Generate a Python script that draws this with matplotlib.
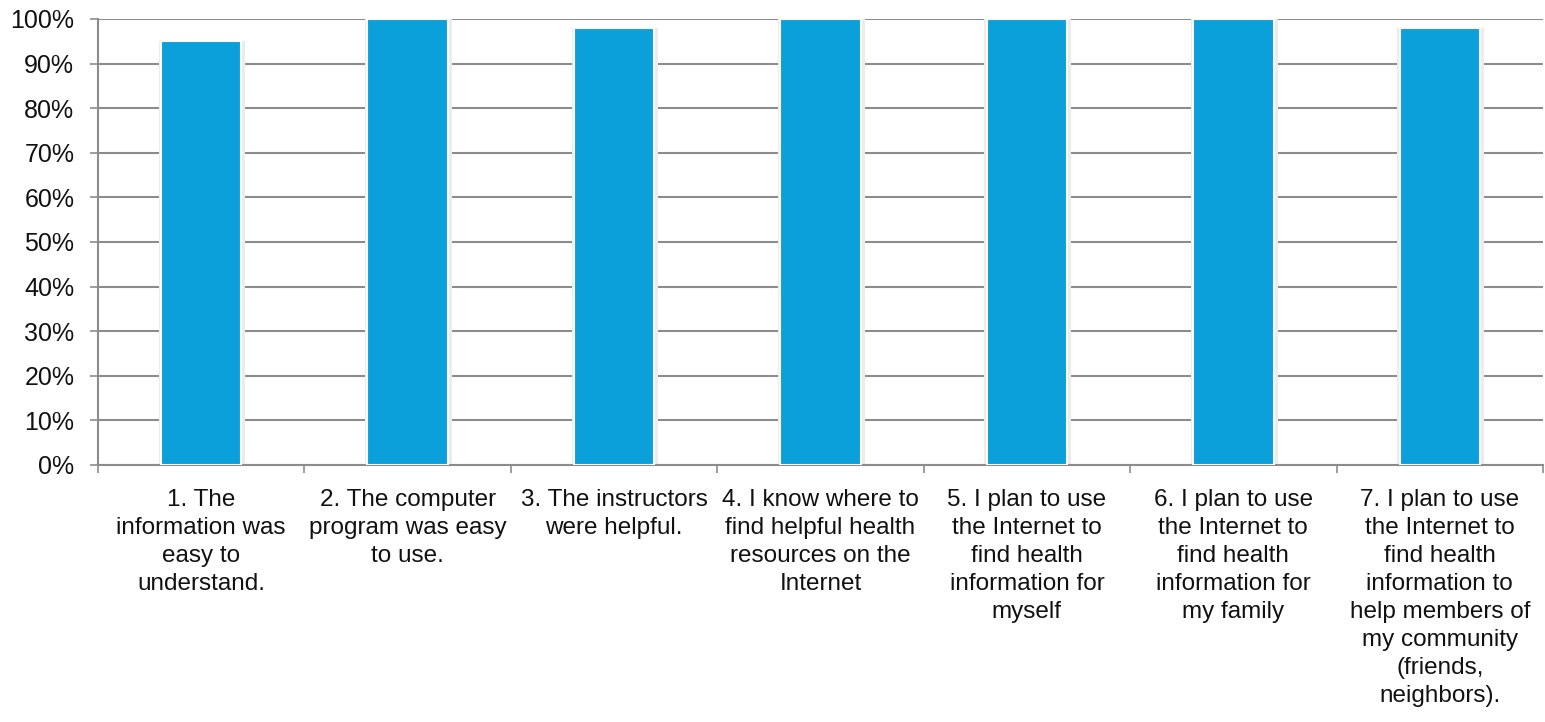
import matplotlib.pyplot as plt
from matplotlib.ticker import FixedLocator, PercentFormatter
import numpy as np

plt.rcParams['font.family'] = ['Liberation Sans', 'DejaVu Sans']

# survey statements and share agreeing
labels = [
    "1. The\ninformation was\neasy to\nunderstand.",
    "2. The computer\nprogram was easy\nto use.",
    "3. The instructors\nwere helpful.",
    "4. I know where to\nfind helpful health\nresources on the\nInternet",
    "5. I plan to use\nthe Internet to\nfind health\ninformation for\nmyself",
    "6. I plan to use\nthe Internet to\nfind health\ninformation for\nmy family",
    "7. I plan to use\nthe Internet to\nfind health\ninformation to\nhelp members of\nmy community\n(friends,\nneighbors).",
]
values = [95, 100, 98, 100, 100, 100, 98]

bar_color = '#0BA0DA'
grid_color = '#8c8c8c'

fig = plt.figure(figsize=(15.45, 7.22), dpi=100)
ax = fig.add_axes([0.0634, 0.356, 0.9353, 0.6177])

x = np.arange(len(values))
width = 0.39

# soft shadow behind bars
ax.bar(x + 0.004, values, width + 0.03, color='#ececec', zorder=2)
ax.bar(x, values, width, color=bar_color, edgecolor='white', linewidth=1.5, zorder=3)

ax.set_xlim(-0.5, len(values) - 0.5)
ax.set_ylim(0, 100)
ax.yaxis.set_major_locator(FixedLocator(np.arange(0, 101, 10)))
ax.yaxis.set_major_formatter(PercentFormatter(decimals=0))
ax.grid(axis='y', color=grid_color, linewidth=1.5, zorder=1)
ax.set_axisbelow(True)

ax.set_xticks(x)
ax.set_xticklabels(labels, fontsize=17.5, linespacing=1.36, color='#111111')
ax.set_xticks(np.arange(-0.5, len(values), 1), minor=True)
ax.tick_params(axis='x', which='major', length=0, pad=17)
ax.tick_params(axis='x', which='minor', length=6, width=1.2, color=grid_color)
ax.tick_params(axis='y', length=6, width=1.2, color=grid_color, labelsize=18, pad=11,
               labelcolor='#111111')

for side in ['top', 'right']:
    ax.spines[side].set_visible(False)
for side in ['left', 'bottom']:
    ax.spines[side].set_color(grid_color)
    ax.spines[side].set_linewidth(1.5)

plt.savefig('out.png', dpi=100)
